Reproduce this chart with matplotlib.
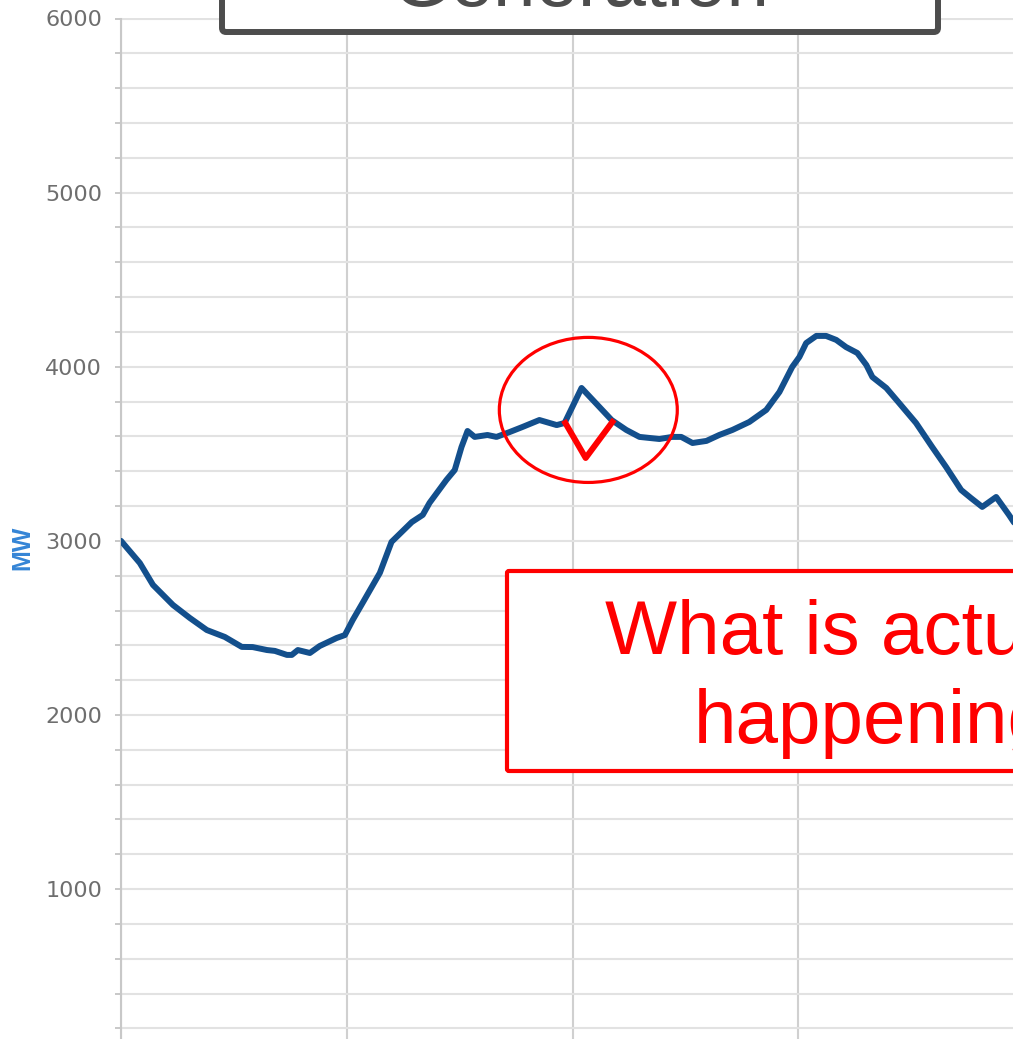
import matplotlib
matplotlib.use("Agg")
import matplotlib.pyplot as plt
from matplotlib.patches import Ellipse, FancyBboxPatch
from matplotlib.ticker import MultipleLocator

# ---- data (hours, MW) ----
hours = [0.0, 0.50, 0.85, 1.38, 1.83, 2.28, 2.76, 3.21, 3.50, 3.88, 4.09, 4.41, 4.54,
         4.70, 5.02, 5.28, 5.73, 5.95, 6.16, 6.42, 6.88, 7.19, 7.46, 7.73, 8.02, 8.20,
         8.65, 8.87, 9.05, 9.21, 9.40, 9.74, 9.98, 10.33, 10.67, 11.12, 11.58, 11.79,
         12.24, 13.04, 13.43, 13.78, 14.31, 14.65, 14.89, 15.19, 15.56, 15.90, 16.25,
         16.70, 17.15, 17.50, 17.84, 18.03, 18.21, 18.48, 18.74, 19.01, 19.27, 19.57,
         19.81, 19.97, 20.34, 20.68, 21.13, 21.56, 21.93, 22.33, 22.59, 22.89, 23.26,
         23.60, 23.76]
mw = [3000, 2873, 2747, 2632, 2557, 2488, 2448, 2391, 2390, 2373, 2368, 2345, 2345,
      2373, 2356, 2396, 2442, 2459, 2546, 2643, 2816, 2994, 3051, 3108, 3149, 3218,
      3350, 3407, 3539, 3631, 3597, 3608, 3597, 3625, 3654, 3694, 3665, 3677,
      3878, 3694, 3637, 3597, 3585, 3597, 3597, 3562, 3574, 3608, 3637,
      3683, 3752, 3855, 3999, 4056, 4136, 4177, 4177, 4154, 4113, 4079,
      4010, 3941, 3878, 3792, 3677, 3539, 3424, 3292, 3246, 3195, 3252,
      3149, 3097]

# red "actual" dip drawn over the spike
dip_hours = [11.81, 12.35, 13.06]
dip_mw = [3677, 3476, 3683]

# highlight ellipse (centre hour, centre MW, width h, height MW)
ell_center = (12.42, 3752)
ell_size = (4.73, 833)

y_major = [1000, 2000, 3000, 4000, 5000, 6000]
y_labels = ["1000", "2000", "3000", "4000", "5000", "6000"]
x_grid = [0, 6, 12, 18, 24]

title_text = "Generation"
note_lines = ["What is actually", "happening"]

W, H = 1013, 1039
fig = plt.figure(figsize=(W / 100, H / 100), dpi=100)
fig.patch.set_facecolor("white")

top_px = 18.5
px_per_mw = 174.12 / 1000
bottom_px = top_px + 6000 * px_per_mw
ax = fig.add_axes([121 / W, 1 - bottom_px / H, (1024 - 121) / W, (bottom_px - top_px) / H])
ax.set_xlim(0, 24)
ax.set_ylim(0, 6000)

for s in ["top", "right", "bottom"]:
    ax.spines[s].set_visible(False)
ax.spines["left"].set_color("#c8c8c8")
ax.spines["left"].set_linewidth(1.5)

ax.set_yticks(y_major)
ax.set_yticklabels(y_labels)
ax.yaxis.set_minor_locator(MultipleLocator(200))
ax.tick_params(axis="y", which="both", length=4.5, width=1.4, color="#c8c8c8",
               labelsize=16, labelcolor="#6e6e6e", pad=9)
ax.set_xticks(x_grid)
ax.set_xticklabels([])
ax.tick_params(axis="x", length=0)

ax.grid(axis="y", which="both", color="#e2e2e2", linewidth=1.5)
ax.grid(axis="x", which="major", color="#d0d0d0", linewidth=1.5)
ax.set_axisbelow(True)

ax.plot(hours, mw, color="#134f8c", linewidth=4.3, solid_joinstyle="round",
        solid_capstyle="round", zorder=3)
ax.plot(dip_hours, dip_mw, color="#ff0000", linewidth=4.3, zorder=4)
ax.add_patch(Ellipse(ell_center, ell_size[0], ell_size[1], facecolor="none",
                     edgecolor="#ff0000", linewidth=2.3, zorder=5))

fig.text(22 / W, 1 - 548 / H, "MW", rotation=90, color="#3585d6",
         fontsize=18, fontweight="bold", family="Liberation Sans",
         ha="center", va="center")

# top grey box
gbox = FancyBboxPatch((222 / W, 1 - 32 / H), (938 - 222) / W, 60 / H,
                      boxstyle="round,pad=0,rounding_size=0.004",
                      transform=fig.transFigure, facecolor="white",
                      edgecolor="#4d4d4d", linewidth=4.3, zorder=10)
fig.patches.append(gbox)
fig.text(580 / W, 1 - 6 / H, title_text, color="#4d4d4d", fontsize=55,
         family="Liberation Sans", ha="center", va="baseline", zorder=11)

# red note box
rbox = FancyBboxPatch((507 / W, 1 - 771 / H), (1300 - 507) / W, (771 - 571) / H,
                      boxstyle="round,pad=0,rounding_size=0.002",
                      transform=fig.transFigure, facecolor="white",
                      edgecolor="#ff0000", linewidth=3.0, zorder=10)
fig.patches.append(rbox)
fig.text(872 / W, 1 - 654 / H, note_lines[0], color="#ff0000", fontsize=55,
         family="Liberation Sans", ha="center", va="baseline", zorder=11)
fig.text(872 / W, 1 - 743 / H, note_lines[1], color="#ff0000", fontsize=55,
         family="Liberation Sans", ha="center", va="baseline", zorder=11)

fig.savefig("out.png", dpi=100)
